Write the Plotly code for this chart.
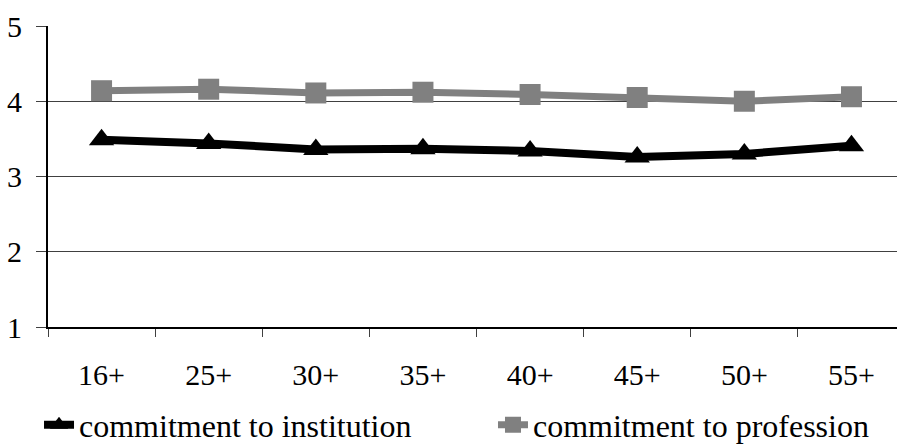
import plotly.graph_objects as go

categories = ["16+", "25+", "30+", "35+", "40+", "45+", "50+", "55+"]
institution = [3.49, 3.44, 3.36, 3.37, 3.34, 3.26, 3.30, 3.41]
profession = [4.14, 4.16, 4.11, 4.12, 4.09, 4.05, 4.00, 4.06]
y_ticks = [1, 2, 3, 4, 5]

FONT = "Liberation Serif"
FS = 30
LFS = 32

fig = go.Figure()
fig.add_trace(go.Scatter(
    x=categories, y=institution, name="commitment to institution",
    mode="lines+markers", legend="legend",
    line=dict(color="black", width=8),
    marker=dict(symbol="triangle-up", size=22, color="black"),
))
fig.add_trace(go.Scatter(
    x=categories, y=profession, name="commitment to profession",
    mode="lines+markers", legend="legend2",
    line=dict(color="#808080", width=7),
    marker=dict(symbol="square", size=21, color="#808080"),
))

leg_common = dict(
    orientation="h", yanchor="middle", xanchor="left",
    xref="container", yref="container",
    font=dict(family=FONT, size=LFS, color="black"),
    itemsizing="trace", bgcolor="rgba(0,0,0,0)",
)

fig.update_layout(
    width=897, height=445,
    margin=dict(l=48, r=0, t=26, b=118),
    paper_bgcolor="white", plot_bgcolor="white",
    font=dict(family=FONT, size=FS, color="black"),
    showlegend=True,
    legend=dict(x=0.0435, y=0.045, **leg_common),
    legend2=dict(x=0.5496, y=0.045, **leg_common),
    xaxis=dict(
        type="category", range=[-0.5, 7.425], automargin=False,
        showline=True, linecolor="black", linewidth=2,
        ticks="outside", tickson="boundaries", ticklen=8, tickcolor="#404040", tickwidth=1,
        showgrid=False, zeroline=False, ticklabelstandoff=20,
        tickfont=dict(family=FONT, size=FS, color="black"),
    ),
    yaxis=dict(
        range=[1, 5], tickvals=y_ticks, automargin=False,
        showline=True, linecolor="black", linewidth=2,
        ticks="outside", ticklen=10, tickcolor="#404040", tickwidth=1,
        showgrid=True, gridcolor="#404040", gridwidth=1,
        zeroline=False, ticklabelstandoff=8,
        tickfont=dict(family=FONT, size=FS, color="black"),
    ),
)

fig.write_html(
    "out.html",
    config={"displayModeBar": False},
    post_script="document.body.style.margin='0';document.body.style.overflow='hidden';",
)
